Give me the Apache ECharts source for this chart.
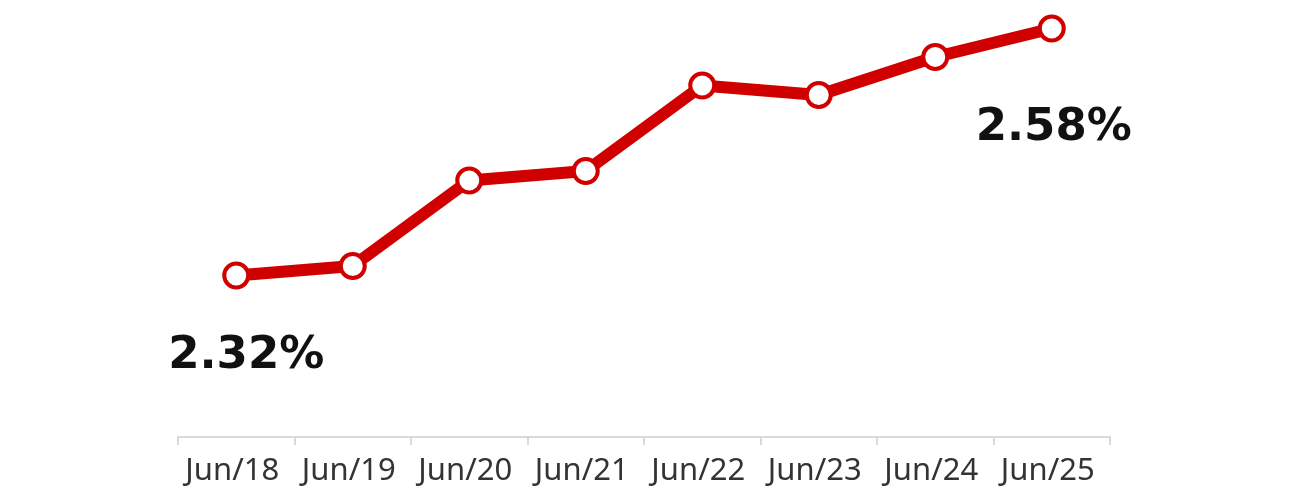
<!DOCTYPE html>
<html><head><meta charset="utf-8">
<script src="https://cdn.jsdelivr.net/npm/echarts@6/dist/echarts.min.js"></script>
<style>html,body{margin:0;padding:0;background:#fff}#c{width:1300px;height:498px}</style>
</head><body><div id="c"></div>
<script>
const categories = ['Jun/18','Jun/19','Jun/20','Jun/21','Jun/22','Jun/23','Jun/24','Jun/25'];
const values = [2.32, 2.33, 2.42, 2.43, 2.52, 2.51, 2.55, 2.58];
const labelled = {0: true, 7: true};

const chart = echarts.init(document.getElementById('c'));
chart.setOption({
  animation: false,
  grid: {left: 178, right: 190, top: 0, bottom: 61},
  xAxis: {
    type: 'category', data: categories, boundaryGap: true,
    axisLine: {lineStyle: {color: '#d9d9d9', width: 2}},
    axisTick: {show: true, length: 8, lineStyle: {color: '#d9d9d9', width: 2}},
    axisLabel: {color: '#333', fontSize: 31, fontFamily: 'Noto Sans', margin: 19,
      interval: 0, hideOverlap: false, padding: [0, 8, 0, 0]}
  },
  yAxis: {type: 'value', min: 2.15, max: 2.61, show: false, splitLine: {show: false}},
  series: [{
    type: 'line', data: values.map((v, i) => ({
      value: v,
      label: labelled[i] ? {show: true, position: 'bottom', distance: i === 0 ? 44 : 63,
        offset: i === 0 ? [10, 0] : [2, 0]} : {show: false}
    })),
    lineStyle: {color: '#d00000', width: 12},
    symbol: 'circle', symbolSize: 24,
    itemStyle: {color: '#fff', borderColor: '#d00000', borderWidth: 4},
    label: {formatter: p => p.value.toFixed(2) + '%', fontSize: 45, fontWeight: 'bold',
      color: '#111', fontFamily: 'DejaVu Sans'}
  }]
});
</script></body></html>
